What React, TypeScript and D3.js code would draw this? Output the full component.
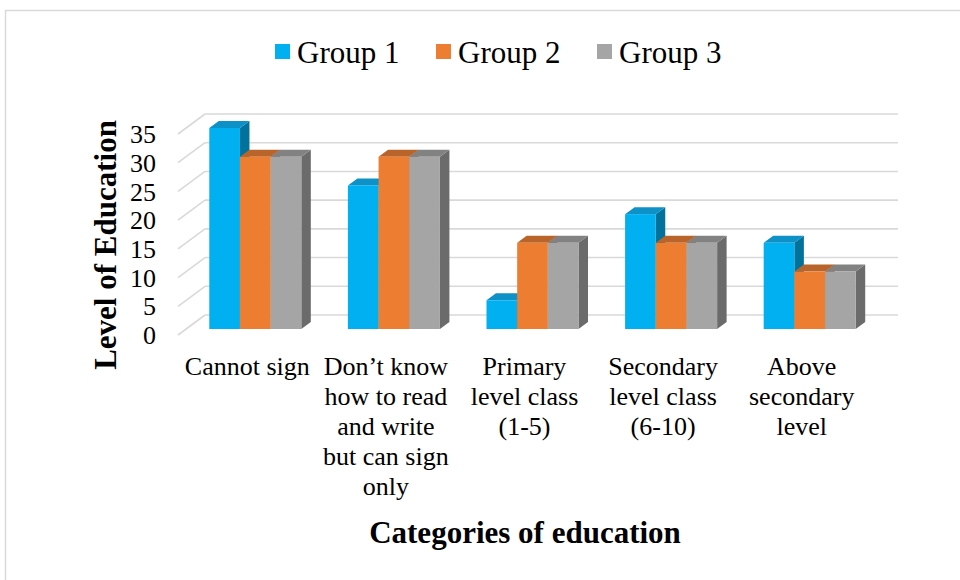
import React from "react";
import * as d3 from "d3";

// category labels, already broken into lines as in the chart
const categories = [
  "Cannot sign",
  "Don’t know how to read and write but can sign only",
  "Primary level class (1-5)",
  "Secondary level class (6-10)",
  "Above secondary level",
];
const categoryLines = [
  ["Cannot sign"],
  ["Don’t know", "how to read", "and write", "but can sign", "only"],
  ["Primary", "level class", "(1-5)"],
  ["Secondary", "level class", "(6-10)"],
  ["Above", "secondary", "level"],
];
const groups = ["Group 1", "Group 2", "Group 3"];
const group1 = [35, 25, 5, 20, 15];
const group2 = [30, 30, 15, 15, 10];
const group3 = [30, 30, 15, 15, 10];
const yTicks = [0, 5, 10, 15, 20, 25, 30, 35];

const series = [group1, group2, group3];
const colors = ["#00B0F0", "#ED7D31", "#A5A5A5"];
const topColors = ["#0D91C6", "#B8642A", "#828282"];
const sideColors = ["#00729C", "#A0521F", "#6B6B6B"];

const FONT = '"Liberation Serif", "Times New Roman", serif';

// 3D offsets (back wall is the reference plane)
const WALL_DX = 27, WALL_DY = 20; // depth of side wall / floor
const BAR_DX = 19, BAR_DY = 14;   // front face of bars relative to back wall
const DEPTH_DX = 9.5, DEPTH_DY = 7; // bar depth

export default function App() {
  const width = 960, height = 580;

  const x = d3
    .scaleBand()
    .domain(categories)
    .range([205, 898])
    .paddingInner(0.336)
    .paddingOuter(0.168);

  const xg = d3.scaleBand().domain(groups).range([0, x.bandwidth()]);

  const y = d3.scaleLinear().domain([0, 35]).range([315, 114]);

  const legendX = d3.scalePoint().domain(groups).range([275, 597]);

  const bars = [];
  categories.forEach((c, ci) => {
    groups.forEach((g, gi) => {
      const v = series[gi][ci];
      const x0 = x(c) + xg(g) - BAR_DX;
      const x1 = x0 + xg.bandwidth();
      const yb = y(0) + BAR_DY;
      const yt = y(v) + BAR_DY;
      const side = `M${x1},${yt} L${x1 + DEPTH_DX},${yt - DEPTH_DY} L${x1 + DEPTH_DX},${yb - DEPTH_DY} L${x1},${yb} Z`;
      const top = `M${x0},${yt} L${x0 + DEPTH_DX},${yt - DEPTH_DY} L${x1 + DEPTH_DX},${yt - DEPTH_DY} L${x1},${yt} Z`;
      bars.push(
        <g key={`${ci}-${gi}`}>
          <path d={side} fill={sideColors[gi]} />
          <path d={top} fill={topColors[gi]} />
          <rect x={x0} y={yt} width={xg.bandwidth()} height={yb - yt} fill={colors[gi]} />
        </g>
      );
    });
  });

  return (
    <svg
      width={width}
      height={height}
      style={{ position: "absolute", left: 0, top: 0, background: "#fff" }}
      fontFamily={FONT}
    >
      <path d="M5.5,580 V10.5 H960" fill="none" stroke="#D9D9D9" strokeWidth={1.5} />

      {/* legend */}
      {groups.map((g, i) => (
        <g key={g} transform={`translate(${legendX(g)},0)`}>
          <rect x={0} y={44} width={15} height={15} fill={colors[i]} />
          <text x={22} y={63} fontSize={31} fill="#000">{g}</text>
        </g>
      ))}

      {/* back wall gridlines and side wall diagonals */}
      {yTicks.map((t) => (
        <g key={t} stroke="#D9D9D9" strokeWidth={1.6} fill="none">
          <line x1={x.range()[0]} x2={x.range()[1]} y1={y(t)} y2={y(t)} />
          <line x1={x.range()[0] - WALL_DX} x2={x.range()[0]} y1={y(t) + WALL_DY} y2={y(t)} />
        </g>
      ))}

      {/* y tick labels */}
      {yTicks.map((t) => (
        <text key={t} x={156} y={y(t) + WALL_DY} dy="0.35em" textAnchor="end" fontSize={26} fill="#000">
          {t}
        </text>
      ))}

      {bars}

      {/* category labels */}
      {categories.map((c, ci) => (
        <text
          key={c}
          x={x(c) + x.bandwidth() / 2 - WALL_DX}
          y={375}
          textAnchor="middle"
          fontSize={26}
          fill="#000"
        >
          {categoryLines[ci].map((line, li) => (
            <tspan key={li} x={x(c) + x.bandwidth() / 2 - WALL_DX} dy={li === 0 ? 0 : 30}>
              {line}
            </tspan>
          ))}
        </text>
      ))}

      {/* axis titles */}
      <text
        transform={`translate(116,245) rotate(-90)`}
        textAnchor="middle"
        fontSize={31}
        fontWeight="bold"
        fill="#000"
      >
        Level of Education
      </text>
      <text x={525} y={543} textAnchor="middle" fontSize={31} fontWeight="bold" fill="#000">
        Categories of education
      </text>
    </svg>
  );
}
